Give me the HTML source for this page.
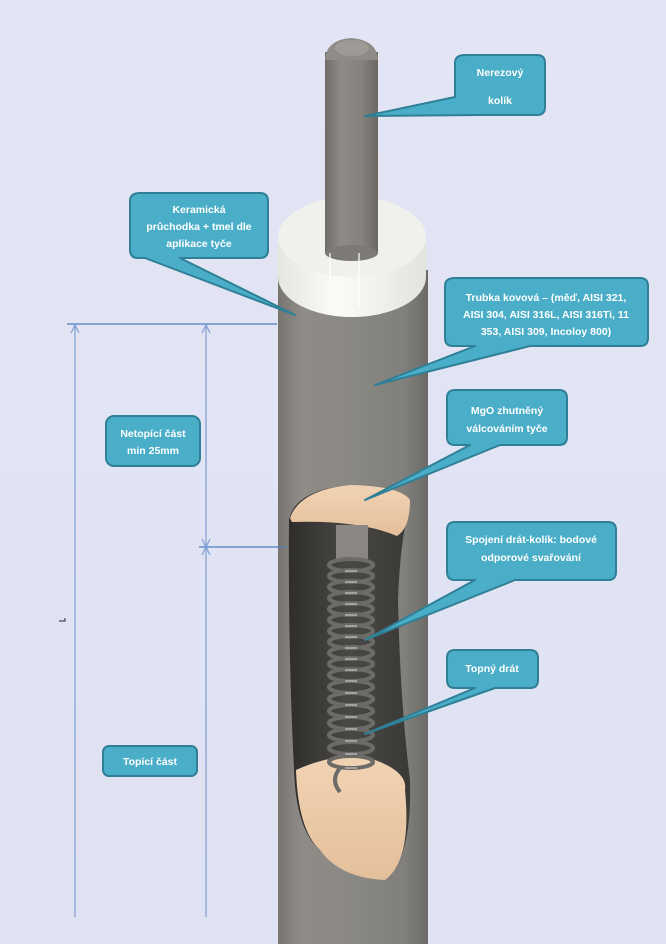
<!DOCTYPE html>
<html><head><meta charset="utf-8"><style>
html,body{margin:0;padding:0;background:#e1e4f4;}
svg{display:block}
text{font-family:"Liberation Sans",sans-serif;font-weight:bold;fill:#fff;font-size:10.5px}
</style></head><body>
<svg width="666" height="944" viewBox="0 0 666 944" xmlns="http://www.w3.org/2000/svg">
<defs>
<linearGradient id="bg" x1="0" y1="0" x2="0" y2="1"><stop offset="0" stop-color="#e3e5f5"/><stop offset="1" stop-color="#dfe2f2"/></linearGradient>
<linearGradient id="tube" x1="0" y1="0" x2="1" y2="0"><stop offset="0" stop-color="#77746f"/><stop offset="0.15" stop-color="#8f8c87"/><stop offset="0.5" stop-color="#8a8883"/><stop offset="0.85" stop-color="#817f7b"/><stop offset="1" stop-color="#6c6a66"/></linearGradient>
<linearGradient id="pin" x1="0" y1="0" x2="1" y2="0"><stop offset="0" stop-color="#6f6c68"/><stop offset="0.3" stop-color="#8e8b86"/><stop offset="0.7" stop-color="#85827d"/><stop offset="1" stop-color="#6a6763"/></linearGradient>
<linearGradient id="cer" x1="0" y1="0" x2="1" y2="0"><stop offset="0" stop-color="#e6e6e0"/><stop offset="0.4" stop-color="#fbfbf8"/><stop offset="1" stop-color="#e4e4de"/></linearGradient>
<linearGradient id="mgo" x1="0" y1="0" x2="0" y2="1"><stop offset="0" stop-color="#f1d3b3"/><stop offset="1" stop-color="#e4bf9c"/></linearGradient>
<linearGradient id="dark" x1="0" y1="0" x2="1" y2="0"><stop offset="0" stop-color="#2f2e2c"/><stop offset="0.5" stop-color="#4a4845"/><stop offset="1" stop-color="#3a3936"/></linearGradient>
</defs>
<rect width="666" height="944" fill="url(#bg)"/>

<rect x="278" y="270" width="150" height="674" fill="url(#tube)"/>
<path d="M278 237 L278 277 A74 40 0 0 0 426 277 L426 237 Z" fill="url(#cer)"/>
<ellipse cx="352" cy="237" rx="74" ry="40" fill="#f0f0ec"/>
<rect x="325" y="52" width="53" height="201" fill="url(#pin)"/>
<ellipse cx="351.5" cy="253" rx="26.5" ry="8" fill="#7d7a75"/>
<path d="M325 60 Q326 40 351 38 Q377 40 378 60 Z" fill="#8f8c87"/>
<ellipse cx="352" cy="48" rx="17" ry="8" fill="#9e9b96"/>
<rect x="329" y="253" width="2" height="60" fill="#fff" opacity="0.6"/>
<rect x="358" y="253" width="2" height="55" fill="#fff" opacity="0.6"/>

<path d="M289 520 Q295 490 350 485 Q400 488 410 505 Q400 540 398 600 Q400 700 410 780 Q412 860 385 880 Q340 875 320 850 Q296 830 294 770 Q288 650 289 520 Z" fill="url(#dark)"/>
<path d="M290 518 Q300 490 350 485 Q400 486 410 500 Q410 528 397 536 Q360 520 292 522 Z" fill="url(#mgo)"/>
<path d="M296 770 Q340 750 375 760 Q408 772 405 790 Q412 860 385 880 Q340 878 320 850 Q298 830 296 770 Z" fill="url(#mgo)"/>
<rect x="336" y="525" width="32" height="35" fill="#8a8782"/>
<g fill="none" stroke="#6d6b68" stroke-width="4">
<ellipse cx="351" cy="565" rx="22" ry="6"/><ellipse cx="351" cy="576" rx="22" ry="6"/><ellipse cx="351" cy="587" rx="22" ry="6"/><ellipse cx="351" cy="598" rx="22" ry="6"/><ellipse cx="351" cy="609" rx="22" ry="6"/><ellipse cx="351" cy="620" rx="22" ry="6"/><ellipse cx="351" cy="631" rx="22" ry="6"/><ellipse cx="351" cy="642" rx="22" ry="6"/><ellipse cx="351" cy="653" rx="22" ry="6"/><ellipse cx="351" cy="664" rx="22" ry="6"/><ellipse cx="351" cy="675" rx="22" ry="6"/><ellipse cx="351" cy="687" rx="22" ry="6"/><ellipse cx="351" cy="699" rx="22" ry="6"/><ellipse cx="351" cy="711" rx="22" ry="6"/><ellipse cx="351" cy="723" rx="22" ry="6"/><ellipse cx="351" cy="735" rx="22" ry="6"/><ellipse cx="351" cy="748" rx="22" ry="6"/><ellipse cx="351" cy="762" rx="22" ry="6"/>
<path d="M340 768 Q330 780 340 792"/>
</g>
<g fill="none" stroke="#d8d8d8" stroke-width="1.2" opacity="0.8">
<path d="M345 571h12M345 582h12M345 593h12M345 604h12M345 615h12M345 626h12M345 637h12M345 648h12M345 659h12M345 670h12M345 681h12M345 693h12M345 705h12M345 717h12M345 729h12M345 741h12M345 754h12M345 768h12"/>
</g>

<g stroke="#4a7ebf" stroke-width="1.3" fill="none">
<line x1="67" y1="324" x2="277" y2="324"/>
<line x1="199" y1="547" x2="287" y2="547"/>
</g>
<g stroke="#7f9fd2" stroke-width="1.2" fill="none">
<line x1="75" y1="325" x2="75" y2="917"/>
<line x1="206" y1="325" x2="206" y2="917"/>
<path d="M71 333 L75 325 L79 333"/>
<path d="M202 333 L206 325 L210 333"/>
<path d="M202 539 L206 547 L210 539"/>
<path d="M202 555 L206 547 L210 555"/>
</g>
<path d="M59 621 h6 v-3" stroke="#222" stroke-width="1" fill="none"/>

<g fill="#4aaec8" stroke="#2f7f96" stroke-width="2" stroke-linejoin="round">
<path d="M465 55 H537 Q545 55 545 63 V107 Q545 115 537 115 H480 L365 116 L455 97 V63 Q455 55 465 55 Z"/>
<path d="M140 193 H260 Q268 193 268 201 V250 Q268 258 260 258 H180 L295 315 L145 258 H138 Q130 258 130 250 V201 Q130 193 140 193 Z"/>
<path d="M455 278 H640 Q648 278 648 286 V338 Q648 346 640 346 H530 L375 385 L475 346 H453 Q445 346 445 338 V286 Q445 278 455 278 Z"/>
<path d="M455 390 H559 Q567 390 567 398 V437 Q567 445 559 445 H500 L365 500 L470 445 H455 Q447 445 447 437 V398 Q447 390 455 390 Z"/>
<path d="M455 522 H608 Q616 522 616 530 V572 Q616 580 608 580 H515 L365 640 L475 580 H455 Q447 580 447 572 V530 Q447 522 455 522 Z"/>
<path d="M455 650 H530 Q538 650 538 658 V680 Q538 688 530 688 H495 L365 734 L475 688 H455 Q447 688 447 680 V658 Q447 650 455 650 Z"/>
<rect x="106" y="416" width="94" height="50" rx="8"/>
<rect x="103" y="746" width="94" height="30" rx="6"/>
</g>
<g text-anchor="middle">
<text x="500" y="76">Nerezový</text>
<text x="500" y="104">kolík</text>
<text x="199" y="213">Keramická</text>
<text x="199" y="230">průchodka + tmel dle</text>
<text x="199" y="247">aplikace tyče</text>
<text x="546" y="301">Trubka kovová – (měď, AISI 321,</text>
<text x="546" y="318">AISI 304, AISI 316L, AISI 316Ti, 11</text>
<text x="546" y="335">353, AISI 309, Incoloy 800)</text>
<text x="507" y="414">MgO zhutněný</text>
<text x="507" y="432">válcováním tyče</text>
<text x="531" y="543">Spojení drát-kolík: bodové</text>
<text x="531" y="561">odporové svařování</text>
<text x="492" y="672">Topný drát</text>
<text x="153" y="437">Netopící část</text>
<text x="153" y="454">min 25mm</text>
<text x="150" y="765">Topící část</text>
</g>
</svg>
</body></html>
